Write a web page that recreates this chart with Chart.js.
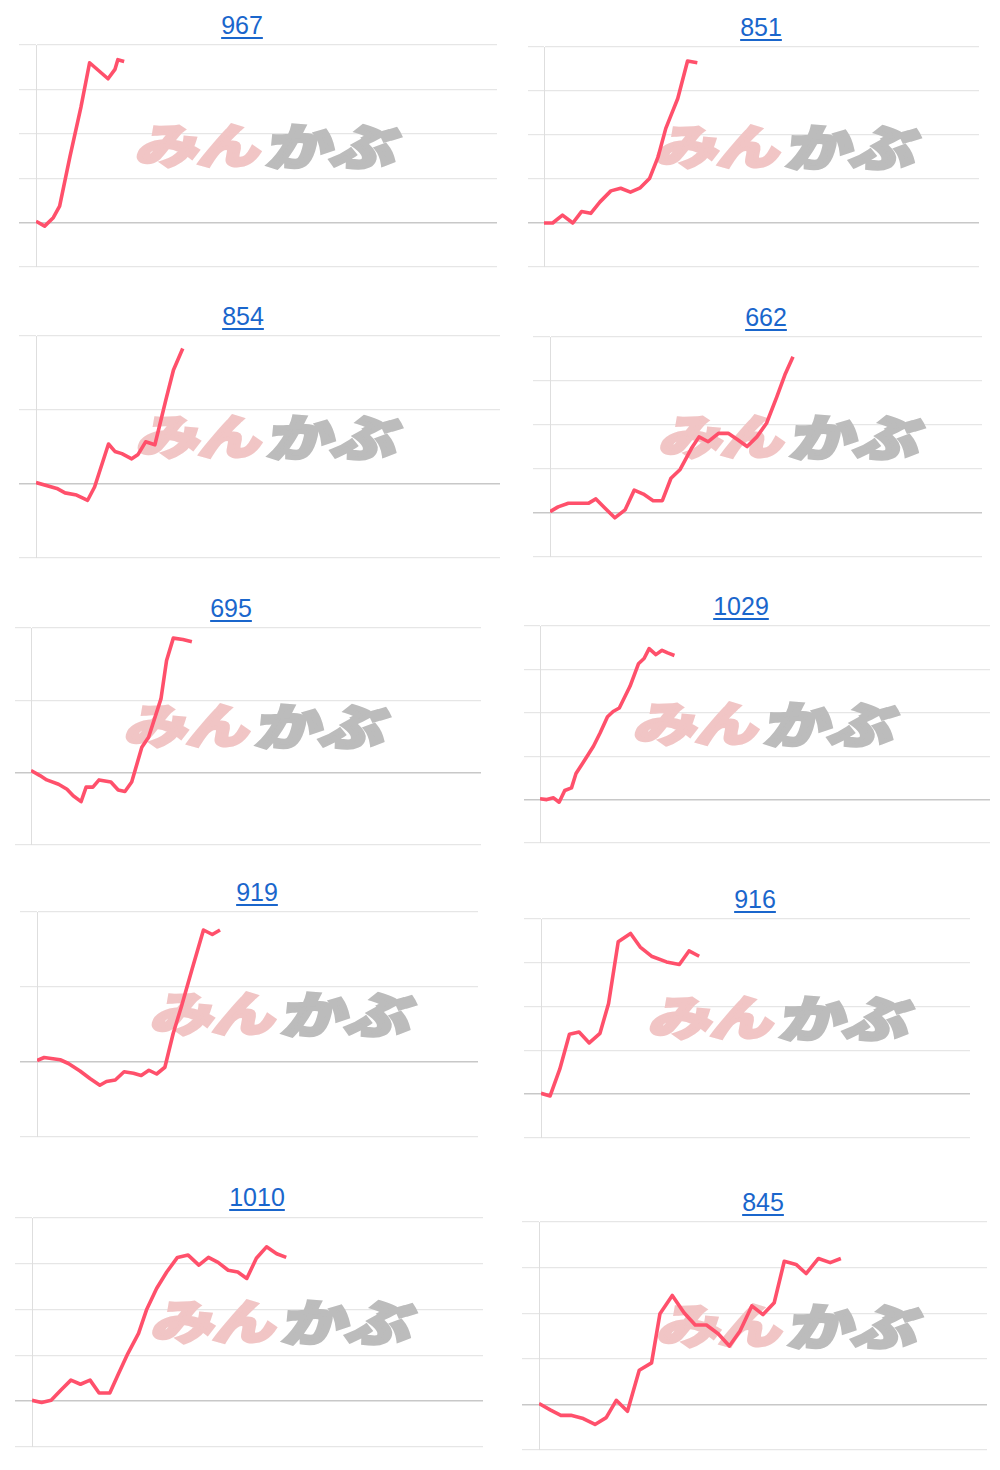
<!DOCTYPE html>
<html>
<head>
<meta charset="utf-8">
<script src="https://cdn.jsdelivr.net/npm/chart.js@4.4.0/dist/chart.umd.min.js"></script>
<style>
    body {
        margin: 0;
        background: #fff;
        width: 1000px;
        height: 1470px;
        position: relative;
        overflow: hidden;
        font-family: "Liberation Sans", Arial, sans-serif;
    }
    .title {
        position: absolute;
        width: 200px;
        margin-left: -100px;
        text-align: center;
        font-size: 25px;
        line-height: 25px;
    }
    .title a {
        color: #1a66cc;
        text-decoration: underline;
        text-decoration-thickness: 2px;
        text-underline-offset: 3px;
    }
    canvas {
        position: absolute;
    }
</style>
</head>
<body>
<script>
// ============================================
// Data: x = trading-day slot (0..80), y = change in grid steps
// ============================================
const xSlots = 80;
const yTicksTall = [-1, 0, 1, 2, 3, 4];
const yTicksShort = [-1, 0, 1, 2];

const days967 = [0, 1.5, 3.0, 4.1, 5.9, 7.8, 9.3, 12.5, 13.7, 14.2, 15.3];
const vals967 = [0.03, -0.08, 0.11, 0.37, 1.49, 2.60, 3.60, 3.24, 3.45, 3.67, 3.63];

const days851 = [0, 1.6, 3.4, 5.3, 6.9, 8.6, 10.3, 12.3, 14.1, 15.9, 17.7, 19.4, 21.0, 22.4, 23.5, 24.6, 26.4, 28.2];
const vals851 = [0, 0, 0.18, 0, 0.26, 0.22, 0.48, 0.73, 0.79, 0.70, 0.80, 1.01, 1.51, 2.15, 2.49, 2.83, 3.68, 3.64];

const days854 = [0, 3.6, 5.0, 7.0, 8.9, 10.1, 12.5, 13.6, 14.8, 16.5, 17.6, 18.9, 20.5, 22.4, 23.7, 25.3];
const vals854 = [0.02, -0.06, -0.12, -0.15, -0.22, -0.04, 0.54, 0.44, 0.41, 0.34, 0.40, 0.57, 0.53, 1.14, 1.54, 1.83];

const days662 = [0, 1.5, 3.4, 7.1, 8.5, 10.2, 12.0, 13.9, 15.6, 17.3, 19.1, 20.8, 22.4, 24.1, 26.2, 27.6, 29.3, 31.2, 33.0, 34.7, 36.5, 38.3, 40.1, 42.0, 43.5, 45.0];
const vals662 = [0.03, 0.14, 0.22, 0.22, 0.32, 0.11, -0.11, 0.07, 0.52, 0.43, 0.28, 0.28, 0.79, 0.99, 1.47, 1.73, 1.62, 1.81, 1.81, 1.67, 1.51, 1.73, 2.04, 2.64, 3.14, 3.55];

const days695 = [0, 1.6, 2.8, 4.9, 6.4, 7.5, 8.9, 9.8, 11.0, 12.1, 14.2, 15.5, 16.7, 17.9, 19.7, 20.9, 23.1, 24.1, 25.3, 27.0, 28.6];
const vals695 = [0.03, -0.04, -0.10, -0.16, -0.23, -0.32, -0.40, -0.20, -0.20, -0.10, -0.13, -0.24, -0.26, -0.13, 0.35, 0.49, 1.02, 1.55, 1.86, 1.84, 1.81];

const days1029 = [0, 1.2, 2.4, 3.4, 4.4, 5.6, 6.4, 7.7, 9.5, 10.7, 12.0, 13.0, 14.1, 16.0, 17.5, 18.5, 19.4, 20.6, 21.7, 22.7, 23.9];
const vals1029 = [0.02, 0, 0.04, -0.06, 0.21, 0.27, 0.60, 0.86, 1.23, 1.54, 1.91, 2.03, 2.11, 2.61, 3.13, 3.25, 3.48, 3.34, 3.44, 3.38, 3.32];

const days919 = [0, 1.3, 4.2, 5.7, 7.8, 9.6, 11.4, 12.6, 14.2, 15.8, 17.5, 18.9, 20.3, 21.7, 23.2, 24.7, 26.2, 28.1, 30.2, 31.8, 33.2];
const vals919 = [0.02, 0.06, 0.03, -0.02, -0.12, -0.22, -0.31, -0.26, -0.24, -0.13, -0.15, -0.18, -0.11, -0.16, -0.07, 0.38, 0.74, 1.23, 1.76, 1.70, 1.76];

const days916 = [0, 1.7, 3.5, 5.3, 7.1, 9.0, 11.0, 12.6, 14.4, 16.7, 18.5, 20.6, 23.4, 25.8, 27.6, 29.5];
const vals916 = [0.02, -0.04, 0.57, 1.37, 1.42, 1.17, 1.39, 2.07, 3.48, 3.67, 3.36, 3.15, 3.02, 2.96, 3.27, 3.15];

const days1010 = [0, 1.7, 3.4, 5.1, 6.9, 8.6, 10.3, 11.9, 13.8, 15.3, 17.0, 18.9, 20.3, 22.1, 23.9, 25.8, 27.7, 29.6, 31.3, 33.0, 34.8, 36.5, 38.1, 39.8, 41.6, 43.4, 45.1];
const vals1010 = [0.02, -0.03, 0.02, 0.24, 0.46, 0.37, 0.46, 0.18, 0.18, 0.59, 1.04, 1.48, 1.99, 2.46, 2.82, 3.14, 3.19, 2.97, 3.14, 3.03, 2.86, 2.82, 2.68, 3.12, 3.37, 3.22, 3.14];

const days845 = [0, 2.0, 3.9, 5.7, 7.9, 10.0, 12.0, 13.8, 15.8, 17.9, 20.1, 21.6, 23.8, 25.9, 27.9, 29.9, 32.0, 34.0, 35.9, 38.0, 40.0, 42.0, 43.8, 45.9, 47.7, 49.9, 52.0, 53.9];
const vals845 = [0.02, -0.12, -0.24, -0.24, -0.31, -0.44, -0.29, 0.09, -0.15, 0.75, 0.91, 1.99, 2.39, 2.01, 1.74, 1.74, 1.55, 1.28, 1.61, 2.16, 1.97, 2.23, 3.14, 3.07, 2.87, 3.20, 3.11, 3.20];

// ============================================
// Panel layout (page pixels)
// ============================================
const panels = [
    { title: '967',  days: days967,  vals: vals967,  ticks: yTicksTall,  tx: 242, ty: 25,   left: 19,  axis: 36,  right: 497, top: 45,   bottom: 267,  dx: 2.5 },
    { title: '851',  days: days851,  vals: vals851,  ticks: yTicksTall,  tx: 761, ty: 27,   left: 528, axis: 544, right: 979, top: 47,   bottom: 267,  dx: 27 },
    { title: '854',  days: days854,  vals: vals854,  ticks: yTicksShort, tx: 243, ty: 316,  left: 19,  axis: 36,  right: 500, top: 336,  bottom: 558,  dx: 2 },
    { title: '662',  days: days662,  vals: vals662,  ticks: yTicksTall,  tx: 766, ty: 317,  left: 533, axis: 550, right: 982, top: 337,  bottom: 557,  dx: 26.5 },
    { title: '695',  days: days695,  vals: vals695,  ticks: yTicksShort, tx: 231, ty: 608,  left: 15,  axis: 31,  right: 481, top: 628,  bottom: 845,  dx: 2 },
    { title: '1029', days: days1029, vals: vals1029, ticks: yTicksTall,  tx: 741, ty: 606,  left: 524, axis: 540, right: 990, top: 626,  bottom: 843,  dx: 2 },
    { title: '919',  days: days919,  vals: vals919,  ticks: yTicksShort, tx: 257, ty: 892,  left: 20,  axis: 37,  right: 478, top: 912,  bottom: 1137, dx: 26.5 },
    { title: '916',  days: days916,  vals: vals916,  ticks: yTicksTall,  tx: 755, ty: 899,  left: 524, axis: 541, right: 970, top: 919,  bottom: 1138, dx: 26.5 },
    { title: '1010', days: days1010, vals: vals1010, ticks: yTicksTall,  tx: 257, ty: 1197, left: 15,  axis: 32,  right: 483, top: 1218, bottom: 1447, dx: 27 },
    { title: '845',  days: days845,  vals: vals845,  ticks: yTicksTall,  tx: 763, ty: 1202, left: 522, axis: 539, right: 987, top: 1222, bottom: 1450, dx: 27.5 }
];

// ============================================
// Watermark logo (drawn under the line)
// ============================================
function drawLogoPart(ctx, text, x, cy, w, h, color) {
    const m = ctx.measureText(text);
    const gw = m.actualBoundingBoxLeft + m.actualBoundingBoxRight;
    const gh = m.actualBoundingBoxAscent + m.actualBoundingBoxDescent;
    ctx.save();
    ctx.translate(x, cy);
    ctx.transform(1, 0, -0.22, 1, 0, 0);
    ctx.scale(w / gw, h / gh);
    ctx.fillStyle = color;
    ctx.strokeStyle = color;
    ctx.lineWidth = 4.5;
    ctx.lineJoin = 'miter';
    const tx = m.actualBoundingBoxLeft;
    const ty = (m.actualBoundingBoxAscent - m.actualBoundingBoxDescent) / 2;
    ctx.fillText(text, tx, ty);
    ctx.strokeText(text, tx, ty);
    ctx.restore();
}

const watermark = {
    id: 'watermark',
    beforeDatasetsDraw(chart, args, opts) {
        const { ctx, chartArea } = chart;
        const w = 256, h = 43;
        const cx = (chartArea.left + chartArea.right) / 2 + opts.dx;
        const cy = (chartArea.top + chartArea.bottom) / 2 - 10;
        const x0 = cx - w / 2;
        ctx.save();
        ctx.font = 'bold 50px "Noto Sans CJK JP"';
        ctx.textBaseline = 'alphabetic';
        drawLogoPart(ctx, 'みん', x0, cy, w * 0.47, h, '#f1c5c5');
        drawLogoPart(ctx, 'かぶ', x0 + w * 0.51, cy, w * 0.49, h, '#bcbcbc');
        ctx.restore();
    }
};

// ============================================
// Build charts
// ============================================
const pad = 4;

panels.forEach(p => {
    const title = document.createElement('div');
    title.className = 'title';
    title.style.left = p.tx + 'px';
    title.style.top = (p.ty - 12) + 'px';
    title.innerHTML = '<a href="#">' + p.title + '</a>';
    document.body.appendChild(title);

    const canvas = document.createElement('canvas');
    const width = p.right - p.left;
    const height = p.bottom - p.top + pad * 2;
    canvas.width = width;
    canvas.height = height;
    canvas.style.left = p.left + 'px';
    canvas.style.top = (p.top - pad) + 'px';
    canvas.style.width = width + 'px';
    canvas.style.height = height + 'px';
    document.body.appendChild(canvas);

    new Chart(canvas, {
        type: 'line',
        data: {
            datasets: [{
                data: p.days.map((d, i) => ({ x: d, y: p.vals[i] })),
                borderColor: 'rgb(255, 80, 107)',
                borderWidth: 3.6,
                borderJoinStyle: 'round',
                borderCapStyle: 'butt',
                pointRadius: 0,
                tension: 0,
                fill: false
            }]
        },
        options: {
            responsive: false,
            animation: false,
            layout: { padding: { top: pad, bottom: pad, left: 0, right: 0 } },
            plugins: {
                legend: { display: false },
                tooltip: { enabled: false },
                watermark: { dx: p.dx }
            },
            scales: {
                x: {
                    type: 'linear',
                    display: false,
                    min: 0,
                    max: xSlots
                },
                y: {
                    min: p.ticks[0],
                    max: p.ticks[p.ticks.length - 1],
                    ticks: { display: false, stepSize: 1 },
                    grid: {
                        color: c => c.tick && c.tick.value === 0 ? '#c8c8c8' : '#e6e6e6',
                        lineWidth: c => c.tick && c.tick.value === 0 ? 1.5 : 1.2,
                        tickLength: p.axis - p.left
                    },
                    border: { display: true, color: '#dedede', width: 1 }
                }
            }
        },
        plugins: [watermark]
    });
});
</script>
</body>
</html>
